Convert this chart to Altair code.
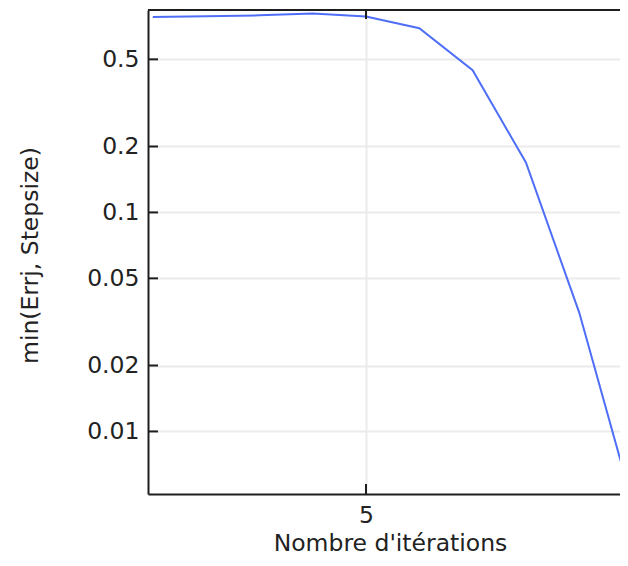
import altair as alt
import pandas as pd

# data
iterations = [1, 2, 3, 4, 5, 6, 7, 8, 9, 10]
min_err_step = [0.780, 0.786, 0.794, 0.809, 0.785, 0.693, 0.446, 0.169, 0.0349, 0.0047]
y_ticks = [0.5, 0.2, 0.1, 0.05, 0.02, 0.01]
x_ticks = [5]

W, H = 472, 484
FONT = "DejaVu Sans"
FS = 23.5
TXT = "#222222"
FRAME = "#1e1e1e"
BLUE = "#4f6ef7"

df = pd.DataFrame({"it": iterations, "v": min_err_step})
yt = pd.DataFrame({"t": y_ticks})
xt = pd.DataFrame({"t": x_ticks})

xscale = alt.Scale(domain=[0.91, 9.765], nice=False, zero=False)
yscale = alt.Scale(type="log", domain=[0.00518, 0.84], nice=False)

line = alt.Chart(df).mark_line(color=BLUE, strokeWidth=2, clip=True).encode(
    x=alt.X("it:Q", scale=xscale,
            axis=alt.Axis(values=x_ticks, title="Nombre d'itérations", format="d",
                          grid=True, gridColor="#ebebeb", gridWidth=2,
                          ticks=False, labelPadding=9, labelFontSize=FS, labelFont=FONT,
                          labelColor=TXT, domainColor=FRAME, domainWidth=2,
                          titleFont=FONT, titleFontSize=FS, titleColor=TXT,
                          titleFontWeight="normal", titleX=242, titleY=56,
                          titleBaseline="alphabetic", titleAlign="center")),
    y=alt.Y("v:Q", scale=yscale,
            axis=alt.Axis(values=y_ticks, title="min(Errj, Stepsize)", format="~g",
                          grid=True, gridColor="#ebebeb", gridWidth=2,
                          ticks=False, labelPadding=9, labelFontSize=FS, labelFont=FONT,
                          labelColor=TXT, domainColor=FRAME, domainWidth=2,
                          titleFont=FONT, titleFontSize=FS, titleColor=TXT,
                          titleFontWeight="normal", titleAngle=270, titleX=-111, titleY=245,
                          titleBaseline="alphabetic", titleAlign="center")),
)

# inward tick marks on left frame
lt = alt.Chart(yt).mark_rule(color=FRAME, strokeWidth=2).encode(
    y=alt.Y("t:Q", scale=yscale), x=alt.value(0), x2=alt.value(10))
# inward ticks on bottom and top frames
bt = alt.Chart(xt).mark_rule(color=FRAME, strokeWidth=2).encode(
    x=alt.X("t:Q", scale=xscale), y=alt.value(H), y2=alt.value(H - 10))
tt = alt.Chart(xt).mark_rule(color=FRAME, strokeWidth=2).encode(
    x=alt.X("t:Q", scale=xscale), y=alt.value(0), y2=alt.value(9))
# top frame
top = alt.Chart(xt).mark_rule(color=FRAME, strokeWidth=2).encode(
    y=alt.value(0), x=alt.value(0), x2=alt.value(W))

chart = alt.layer(line, lt, bt, tt, top).properties(
    width=W, height=H,
    autosize=alt.AutoSizeParams(type="none"),
    padding={"left": 140, "top": 2, "right": 0, "bottom": 62},
).configure_view(stroke=None).configure(background="white")

chart.save("out.html", embed_options={"renderer": "svg", "actions": False})
